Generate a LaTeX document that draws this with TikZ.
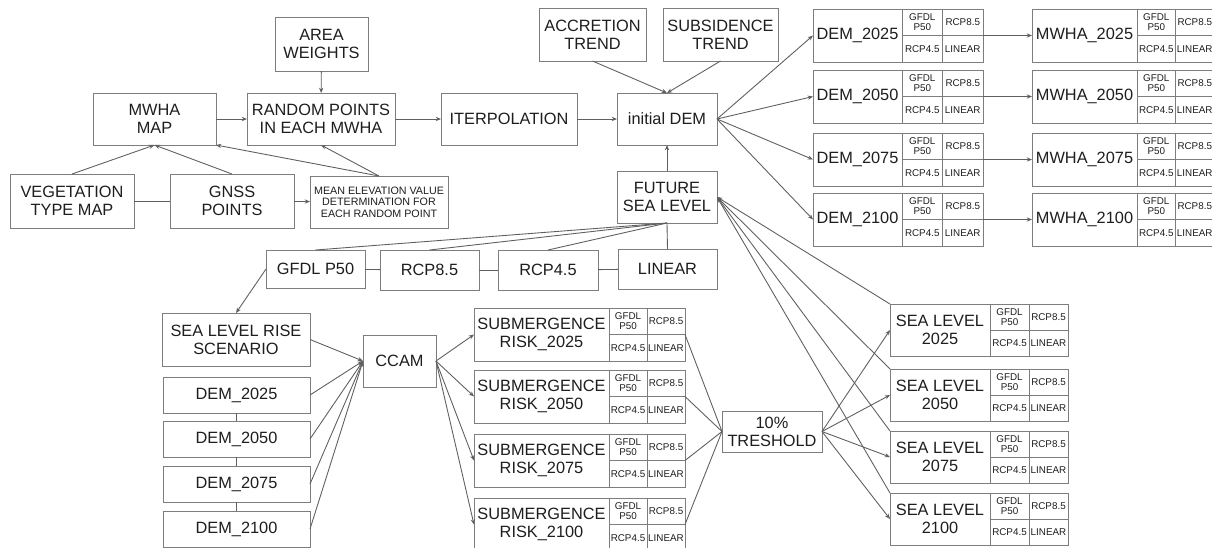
\documentclass[tikz,border=0pt]{standalone}
\usepackage{fontspec}
\setmainfont{Liberation Sans}
\usepackage{tikz}
\usetikzlibrary{positioning,arrows.meta}
\definecolor{boxgray}{RGB}{125,125,125}
\definecolor{linegray}{RGB}{95,95,95}
\definecolor{textgray}{RGB}{30,30,30}

\tikzset{
  box/.style={draw=boxgray,line width=0.5pt,outer sep=0pt,inner sep=1pt,align=center,
    text=textgray,font=\fontsize{9.3}{10.2}\selectfont},
  cell/.style={draw=boxgray,line width=0.5pt,outer sep=0pt,inner sep=0pt,align=center,
    text=textgray,font=\fontsize{5.6}{5.9}\selectfont},
  link/.style={draw=linegray,line width=0.5pt},
  arr/.style={link,-{Stealth[length=3pt,width=2.4pt]}},
}

% label box with the four scenario cells on its right
\newcommand{\gridbox}[6]{%
  \node[box,anchor=north west,minimum width=#3,minimum height=#5] (#1) at #2 {#6};
  \node[cell,anchor=north west,minimum width=#4,minimum height=#5/2] (#1a) at (#1.north east) {GFDL\\P50};
  \node[cell,anchor=north west,minimum width=#4,minimum height=#5/2] (#1b) at (#1a.north east) {RCP8.5};
  \node[cell,anchor=north west,minimum width=#4,minimum height=#5/2] (#1c) at (#1a.south west) {RCP4.5};
  \node[cell,anchor=north west,minimum width=#4,minimum height=#5/2] (#1d) at (#1c.north east) {LINEAR};
}

\begin{document}
\begin{tikzpicture}[x=0.2mm,y=-0.2mm]
\useasboundingbox (0,0) rectangle (1212,547);
\fill[white] (0,0) rectangle (1212,547);
\clip (0,0) rectangle (1212,547);
% Input chain
\node[box,minimum width=1.86cm,minimum height=1.08cm] (weights) at (321.5,44) {AREA\\WEIGHTS};
\node[box,minimum width=2.46cm,minimum height=1.04cm] (mwhamap) at (154.5,119) {MWHA\\MAP};
\node[box,minimum width=2.96cm,minimum height=1.04cm] (random) at (321,119) {RANDOM POINTS\\IN EACH MWHA};
\node[box,minimum width=2.48cm,minimum height=1.08cm] (veg) at (72,201) {VEGETATION\\TYPE MAP};
\node[box,minimum width=2.48cm,minimum height=1.08cm] (gnss) at (232,201) {GNSS\\POINTS};
\node[box,minimum width=2.76cm,minimum height=1.04cm,font=\fontsize{6.1}{6.6}\selectfont] (meanelev) at (379,202)
  {MEAN ELEVATION VALUE\\DETERMINATION FOR\\EACH RANDOM POINT};
\node[box,minimum width=2.14cm,minimum height=1.06cm] (accretion) at (592.5,34.5) {ACCRETION\\TREND};
\node[box,minimum width=2.3cm,minimum height=1.06cm] (subsidence) at (720.5,34.5) {SUBSIDENCE\\TREND};
\node[box,minimum width=2.72cm,minimum height=1.04cm] (interp) at (509,119) {ITERPOLATION};
\node[box,minimum width=2.0cm,minimum height=1.04cm] (initdem) at (667,119) {initial DEM};
\node[box,minimum width=2.0cm,minimum height=1.04cm] (future) at (667,197) {FUTURE\\SEA LEVEL};

\draw[link] (veg) -- (gnss);
\draw[arr] (veg.north) -- (mwhamap.south);
\draw[arr] (gnss.north) -- (mwhamap.south);
\draw[arr] (gnss) -- (meanelev);
\draw[arr] (meanelev.north) -- (mwhamap.south east);
\draw[arr] (meanelev.north) -- (random.south);
\draw[arr] (weights) -- (random);
\draw[arr] (mwhamap) -- (random);
\draw[arr] (random) -- (interp);
\draw[arr] (interp) -- (initdem);
\draw[arr] (accretion.south) -- (initdem.north);
\draw[arr] (subsidence.south) -- (initdem.north);
\draw[arr] (future) -- (initdem);

% Future DEMs and MWHA maps
\foreach \yr/\ty in {2025/9,2050/70,2075/133,2100/193} {
  \gridbox{rdem\yr}{(813,\ty)}{1.78cm}{0.81cm}{1.06cm}{DEM\_\yr}
  \gridbox{mwha\yr}{(1032,\ty)}{2.1cm}{0.77cm}{1.06cm}{MWHA\_\yr}
  \draw[arr] (initdem.east) -- (rdem\yr.west);
  \draw[arr] (rdem\yr b.south east) -- (mwha\yr.west);
}

% Scenarios
\node[box,minimum width=1.98cm,minimum height=0.76cm] (gfdl) at (315.5,269) {GFDL P50};
\node[box,minimum width=1.98cm,minimum height=0.8cm] (rcp85) at (429.5,270) {RCP8.5};
\node[box,minimum width=2.0cm,minimum height=0.8cm] (rcp45) at (548,270) {RCP4.5};
\node[box,minimum width=1.98cm,minimum height=0.8cm] (linear) at (667.5,269) {LINEAR};
\foreach \s in {gfdl,rcp85,rcp45,linear}
  \draw[link] (future.south) -- (\s.north);
\draw[link] (gfdl) -- (rcp85);
\draw[link] (rcp85) -- (rcp45);
\draw[link] (rcp45) -- (linear);

% CCAM inputs
\node[box,minimum width=2.96cm,minimum height=1.06cm] (slrs) at (236,339.5) {SEA LEVEL RISE\\SCENARIO};
\node[box,minimum width=1.46cm,minimum height=1.04cm] (ccam) at (399.5,361) {CCAM};
\draw[arr] (gfdl.west) -- (slrs.north);
\draw[arr] (slrs.east) -- (ccam.west);
\foreach \yr/\cy in {2025/395,2050/439,2075/484,2100/529} {
  \node[box,minimum width=2.94cm,minimum height=0.72cm] (ldem\yr) at (236.5,\cy) {DEM\_\yr};
  \draw[arr] (ldem\yr.east) -- (ccam.west);
}
\draw[link] (ldem2025) -- (ldem2050);
\draw[link] (ldem2050) -- (ldem2075);
\draw[link] (ldem2075) -- (ldem2100);

% Submergence risk and sea level
\node[box,minimum width=2.0cm,minimum height=0.82cm] (thr) at (772,431.5) {10\%\\TRESHOLD};
\foreach \yr/\ty/\sy in {2025/308/304,2050/370/369,2075/434/431,2100/498/493} {
  \gridbox{sr\yr}{(474,\ty)}{2.7cm}{0.76cm}{1.06cm}{SUBMERGENCE\\RISK\_\yr}
  \gridbox{sl\yr}{(890,\sy)}{2.0cm}{0.78cm}{1.04cm}{SEA LEVEL\\\yr}
  \draw[arr] (ccam.east) -- (sr\yr.west);
  \draw[link] (sr\yr b.south east) -- (thr.west);
  \draw[arr] (thr.east) -- (sl\yr.west);
  \draw[arr] (sl\yr.north west) -- (future.east);
}
\end{tikzpicture}
\end{document}
